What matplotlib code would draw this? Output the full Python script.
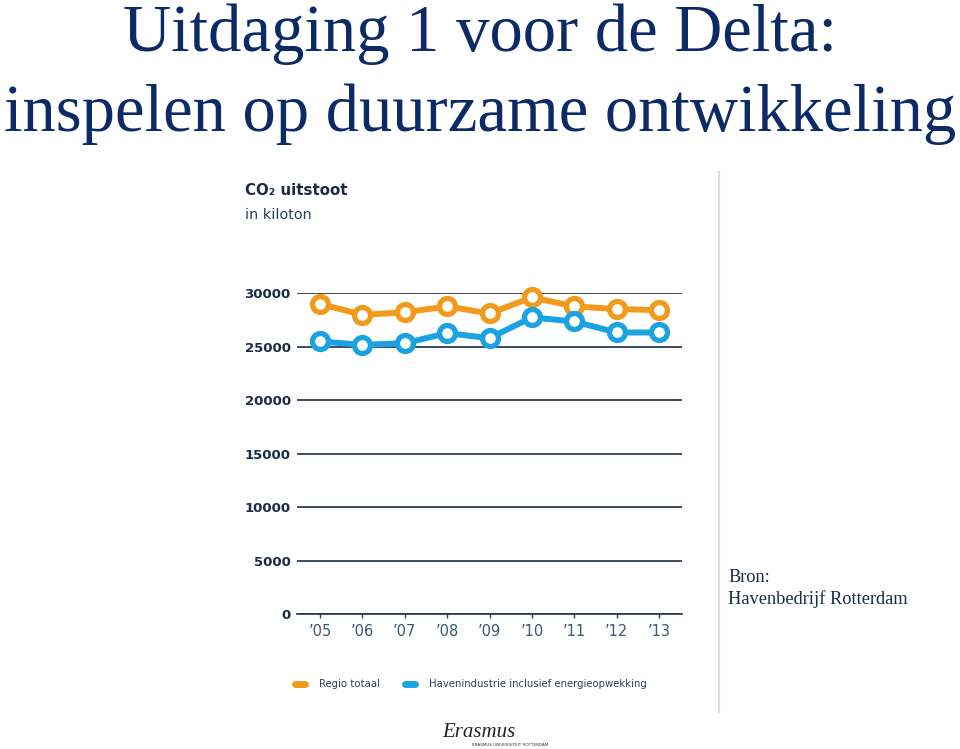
"""
CO2-uitstoot regio Rotterdam, slide 'Uitdaging 1 voor de Delta'.
"""
import matplotlib.pyplot as plt
from matplotlib.lines import Line2D

NAVY, TITLE = "#1b2a48", "#0b2a66"
GRIDC, TICKC = "#2f3e52", "#3c5677"
ORANGE, BLUE = "#f29b1a", "#1aa3e0"

years = ["\u201905", "\u201906", "\u201907", "\u201908", "\u201909",
         "\u201910", "\u201911", "\u201912", "\u201913"]
regio_totaal = [28970, 27970, 28190, 28750, 28090, 29590, 28750, 28500, 28400]
havenindustrie = [25470, 25160, 25310, 26250, 25780, 27720, 27340, 26310, 26310]
yticks = [0, 5000, 10000, 15000, 20000, 25000, 30000]

fig = plt.figure(figsize=(9.6, 7.49), dpi=100)
fig.patch.set_facecolor("white")

# slide title
fig.text(0.5, 0.932, "Uitdaging 1 voor de Delta:", ha="center", va="baseline",
         family="Liberation Serif", fontsize=48, color=TITLE)
fig.text(0.5, 0.825, "inspelen op duurzame ontwikkeling", ha="center", va="baseline",
         family="Liberation Serif", fontsize=48, color=TITLE)

# chart
ax = fig.add_axes([0.3094, 0.1802, 0.401, 0.4286])
x = list(range(len(years)))
for vals, c in ((regio_totaal, ORANGE), (havenindustrie, BLUE)):
    ax.plot(x, vals, color=c, linewidth=4.3, marker="o", markersize=11.5,
            markerfacecolor="white", markeredgecolor=c, markeredgewidth=3.8,
            clip_on=False, zorder=5)

ax.set_xlim(-0.545, len(years) - 1 + 0.545)
ax.set_ylim(0, 30000)
ax.set_yticks(yticks)
ax.set_yticklabels([str(v) for v in yticks], family="DejaVu Sans",
                   fontweight="bold", fontsize=9.5, color=NAVY)
ax.set_xticks(x)
ax.set_xticklabels(years, fontsize=10.5, color=TICKC)
for s in ("top", "right", "left"):
    ax.spines[s].set_visible(False)
ax.spines["bottom"].set_color(GRIDC)
ax.spines["bottom"].set_linewidth(1.3)
ax.tick_params(axis="y", length=0, pad=4.5)
ax.tick_params(axis="x", length=3, width=1, color=GRIDC, pad=4)
ax.yaxis.grid(True, color=GRIDC, linewidth=1.3)
ax.set_axisbelow(True)

# chart heading
fig.text(245 / 960, 1 - 195 / 749, "CO\u2082 uitstoot", ha="left", va="baseline",
         fontsize=10.8, fontweight="bold", color=NAVY)
fig.text(245 / 960, 1 - 219 / 749, "in kiloton", ha="left", va="baseline",
         fontsize=10.4, color="#2a3f5f")

# legend
for x0, c, lab in ((292, ORANGE, "Regio totaal"),
                   (402, BLUE, "Havenindustrie inclusief energieopwekking")):
    fig.add_artist(Line2D([(x0 + 3) / 960, (x0 + 13) / 960],
                          [1 - 684 / 749] * 2, color=c, linewidth=5,
                          solid_capstyle="round"))
    fig.text((x0 + 27) / 960, 1 - 684 / 749, lab, ha="left", va="center",
             fontsize=7.3, color="#2a3f5f")

# divider and source
fig.add_artist(Line2D([719 / 960] * 2, [1 - 172 / 749, 1 - 712 / 749],
                      color="#dedede", linewidth=1.5))
fig.text(728 / 960, 1 - 582 / 749, "Bron:", ha="left", va="baseline",
         family="Liberation Serif", fontsize=13.2, color=NAVY)
fig.text(728 / 960, 1 - 604 / 749, "Havenbedrijf Rotterdam", ha="left",
         va="baseline", family="Liberation Serif", fontsize=13.2, color=NAVY)

# logo
fig.text(442 / 960, 1 - 737 / 749, "Erasmus", ha="left", va="baseline",
         family="Liberation Serif", style="italic", fontsize=15, color="#222222")
fig.text(472 / 960, 1 - 746 / 749, "ERASMUS UNIVERSITEIT ROTTERDAM", ha="left",
         va="baseline", fontsize=3, color="#333333")

fig.savefig("out.png", dpi=100, facecolor="white")
